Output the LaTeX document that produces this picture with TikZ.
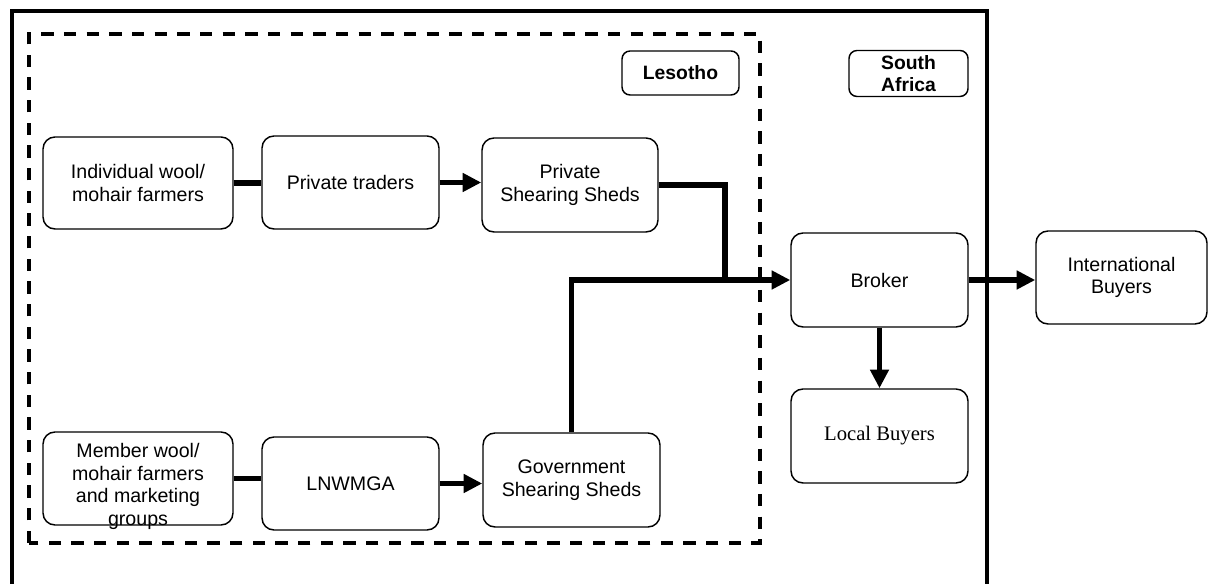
\documentclass[tikz,border=0pt]{standalone}
\usepackage{fontspec}
\setmainfont{Liberation Sans}
\newfontfamily\timesfont{Liberation Serif}
\usetikzlibrary{arrows.meta}
\begin{document}
\begin{tikzpicture}[x=0.75pt,y=-0.75pt,
  box/.style={draw, line width=1.1pt, rounded corners=9pt, align=center, inner sep=0pt,
    font=\fontsize{14.7}{17}\selectfont},
  tag/.style={draw, line width=1.1pt, rounded corners=6pt, align=center, inner sep=0pt,
    font=\fontsize{14.5}{16}\selectfont\bfseries},
  link/.style={line width=4.3pt},
  flow/.style={line width=4.3pt, -{Triangle[length=14pt,width=13.5pt]}},
  border/.style={line width=3pt},
  region/.style={line width=3pt, dash pattern=on 9.2pt off 7.8pt}]
\useasboundingbox (0,0) rectangle (1208,584);
% outer border (bottom edge lies below the picture)
\draw[border] (12,600) -- (12,11) -- (987,11) -- (987,600);
% Lesotho region
\draw[region] (29,543) -- (29,34) -- (760,34) -- (760,543) -- cycle;
% region labels
\node[tag, minimum width=117*0.75pt, minimum height=44*0.75pt] (les) at (680.5,73) {Lesotho};
\node[tag, minimum width=119*0.75pt, minimum height=46*0.75pt] (sa) at (908.5,73.5) {South\\Africa};
% nodes
\node[box, minimum width=190*0.75pt, minimum height=92*0.75pt] (ind) at (138,183) {Individual wool/\\mohair farmers};
\node[box, minimum width=177*0.75pt, minimum height=93*0.75pt] (pt) at (350.5,182.5) {Private traders};
\node[box, minimum width=176*0.75pt, minimum height=94*0.75pt] (ps) at (570,185) {Private\\Shearing Sheds};
\node[box, minimum width=190*0.75pt, minimum height=93*0.75pt,
  label={[align=center, inner sep=0pt, font=\fontsize{14.7}{17}\selectfont, yshift=-6pt]center:{Member wool/\\mohair farmers\\and marketing\\groups}}] (mem) at (138,478.5) {};
\node[box, minimum width=177*0.75pt, minimum height=93*0.75pt] (ln) at (350.5,483.5) {LNWMGA};
\node[box, minimum width=177*0.75pt, minimum height=94*0.75pt] (gs) at (571.5,480) {Government\\Shearing Sheds};
\node[box, minimum width=177*0.75pt, minimum height=94*0.75pt] (br) at (879.5,280) {Broker};
\node[box, minimum width=177*0.75pt, minimum height=94*0.75pt, font=\timesfont\fontsize{15.5}{17}\selectfont] (lb) at (879.5,436) {Local Buyers};
\node[box, minimum width=171*0.75pt, minimum height=93*0.75pt] (ib) at (1121.5,277.5) {International\\Buyers};
\coordinate (j) at (725,280);
% connectors
\draw[link] (ind.east) -- (pt.west |- ind.east);
\draw[flow] (pt.east) -- (ps.west |- pt.east);
\draw[link] (ps.east) -| (j);
\draw[flow] (gs.north) |- (br.west);
\draw[link] (mem.east) -- (ln.west |- mem.east);
\draw[flow] (ln.east) -- (gs.west |- ln.east);
\draw[flow] (br.east) -- (ib.west |- br.east);
\draw[flow] (br.south) -- (lb.north);
\end{tikzpicture}
\end{document}
